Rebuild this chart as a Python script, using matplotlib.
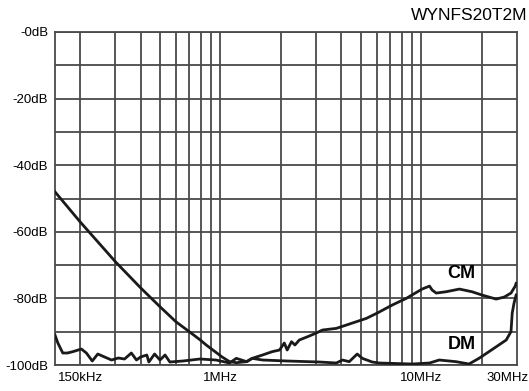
import numpy as np
import matplotlib
matplotlib.use('Agg')
import matplotlib.pyplot as plt
import matplotlib.transforms as mtransforms

plt.rcParams['font.family'] = ['Liberation Sans', 'DejaVu Sans']

# CM curve (MHz, dB)
cm_f = [0.15, 0.2, 0.3, 0.4, 0.5, 0.6, 0.70, 0.79, 0.85, 1.02, 1.11, 1.2, 1.35,
        1.44, 1.62, 1.81, 1.97, 2.08, 2.15, 2.26, 2.35, 2.47, 2.77, 3.0, 3.22, 3.78,
        4.54, 5.33, 6.04, 7.17, 8.42, 10.1, 11.0, 11.34, 11.88, 13.3, 15.5, 17.9,
        20.1, 23.6, 25.9, 28.0, 29.4, 29.7]
cm_db = [-48, -57, -69, -76.8, -82.5, -87, -90, -92.4, -94, -97.6, -99, -99.3, -99,
         -98, -97, -96, -95.5, -93.4, -95.5, -93, -94, -92.5, -91.3, -90.4, -89.5, -89,
         -87.4, -86, -84.4, -82, -80, -77.2, -76.3, -77.5, -78.4, -78, -77.2, -78,
         -79, -80.2, -79.6, -78.4, -76.3, -75.5]

# DM curve (MHz, dB)
dm_f = [0.15, 0.155, 0.164, 0.173, 0.184, 0.203, 0.215, 0.23, 0.245, 0.265, 0.287, 0.31,
        0.333, 0.36, 0.382, 0.40, 0.43, 0.44, 0.47, 0.50, 0.53, 0.56, 0.65, 0.79, 0.95,
        1.11, 1.2, 1.35, 1.44, 1.62, 2.15, 3.11, 3.78, 4.05, 4.38, 4.8, 5.09, 5.7, 6.18,
        9.0, 11.0, 12.3, 14.9, 17.3, 19.4, 22.5, 26.5, 28.0, 28.4, 29.0, 29.7]
dm_db = [-91, -93.4, -96.4, -96.4, -96, -95.2, -96.4, -98.8, -96.7, -97.6, -98.5, -97.9,
         -98.2, -96.4, -98.5, -97.6, -97, -99.1, -96.7, -98.5, -97, -99.1, -98.8, -98.2, -98.5,
         -99.4, -98, -99, -98, -98.5, -98.8, -99.1, -99.4, -98.5, -99, -96.7, -98, -99.1, -99.4,
         -99.7, -99.4, -98.5, -99, -99.7, -98, -95.4, -92.5, -90, -84.4, -81.4, -79]

grid_f = [0.2, 0.3, 0.4, 0.5, 0.6, 0.7, 0.8, 0.9, 1, 2, 3, 4, 5, 6, 7, 8, 9, 10, 20]
grid_db = list(range(0, -101, -10))
ytick_db = [0, -20, -40, -60, -80, -100]
ytick_labels = ['-0dB', '-20dB', '-40dB', '-60dB', '-80dB', '-100dB']

gcol = '#4a4a4a'
fig = plt.figure(figsize=(5.29, 3.91), dpi=100)
ax = fig.add_axes([55/529, 1-365/391, 462/529, 333/391])
ax.set_xscale('log')
ax.set_xlim(0.15, 30)
ax.set_ylim(-100, 0)

for f in grid_f:
    ax.axvline(f, color=gcol, lw=1.3, zorder=1)
for d in grid_db:
    ax.axhline(d, color=gcol, lw=1.3, zorder=1)
for s in ax.spines.values():
    s.set_color(gcol)
    s.set_linewidth(1.3)

ax.plot(cm_f, cm_db, color='#1a1a1a', lw=2.0, zorder=3)
ax.plot(dm_f, dm_db, color='#1a1a1a', lw=2.0, zorder=3)

ax.set_xticks([])
ax.minorticks_off()
ax.set_yticks(ytick_db)
ax.set_yticklabels(ytick_labels, fontsize=9.5)
ax.tick_params(axis='y', length=0, pad=5)

trans = mtransforms.blended_transform_factory(ax.transData, ax.transAxes)
for xpos, lab in [(0.2, '150kHz'), (1, '1MHz'), (10, '10MHz')]:
    ax.text(xpos, -0.04, lab, transform=trans, ha='center', va='center', fontsize=9.5)
fig.text(508/529, 1-378/391, '30MHz', ha='center', va='center', fontsize=9.5)

ax.text(15.8, -72.4, 'CM', ha='center', va='center', fontsize=13, fontweight='bold')
ax.text(16.0, -93.8, 'DM', ha='center', va='center', fontsize=13, fontweight='bold')
fig.text(527/529, 1-15/391, 'WYNFS20T2M', ha='right', va='center', fontsize=12.5)

plt.savefig('out.png', dpi=100)
